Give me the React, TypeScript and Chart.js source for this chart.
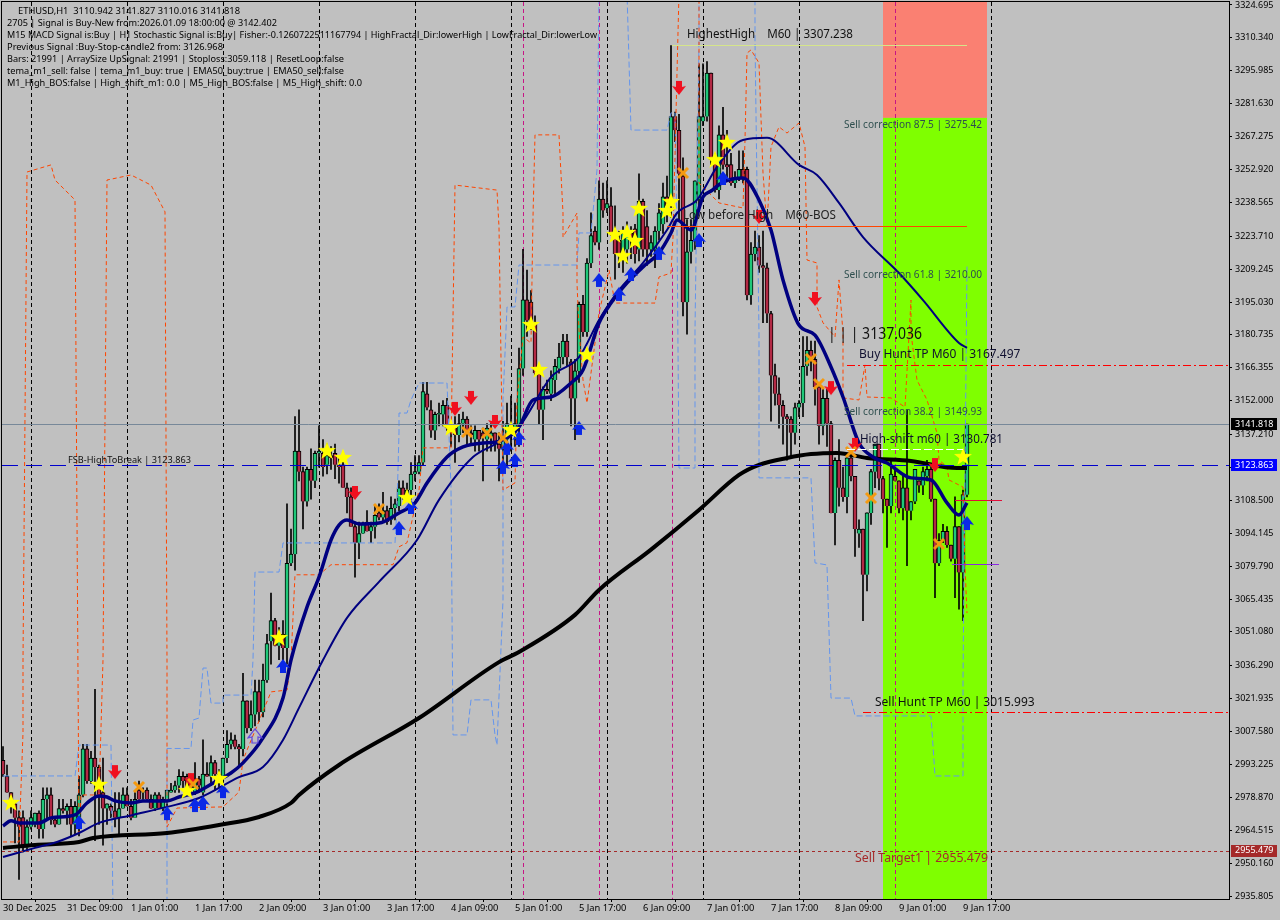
import React, { useEffect, useRef } from "react";
import { Chart, LineController, ScatterController, registerables } from "chart.js";

Chart.register(...registerables);
// Keep the plot area exactly where the axes put it: lines and point sprites must not push the layout inwards.
(LineController.prototype as any).getMaxOverflow = () => 0;
(ScatterController.prototype as any).getMaxOverflow = () => 0;

const opens = [
  2995,2988,2981,2976,2970,2970,2957,2966,2967,2972,
  2965,2978,2980,2969,2967,2974,2973,2975,2967,2970,
  2980,3000,2986,2996,2992,2981,2974,2975,2973,2970,
  2974,2980,2975,2970,2982,2981,2982,2978,2974,2980,
  2974,2977,2981,2982,2984,2988,2988,2986,2981,2987,
  2981,2989,2988,2994,2986,2988,2996,3002,3004,3001,
  3000,3021,3009,3015,3025,3016,3030,3047,3056,3045,
  3050,3044,3081,3085,3130,3121,3108,3122,3117,3129,
  3129,3124,3128,3129,3124,3124,3114,3110,3097,3090,
  3094,3099,3095,3097,3103,3101,3104,3100,3105,3106,
  3114,3110,3113,3120,3121,3125,3155,3148,3139,3146,
  3146,3150,3140,3140,3137,3142,3144,3138,3135,3139,
  3138,3135,3136,3138,3133,3131,3135,3138,3138,3141,
  3166,3196,3195,3186,3164,3148,3157,3155,3161,3166,
  3171,3178,3169,3153,3165,3194,3182,3212,3226,3221,
  3240,3236,3237,3225,3222,3216,3218,3225,3227,3218,
  3239,3228,3218,3218,3226,3229,3241,3237,3276,3270,
  3250,3195,3217,3222,3240,3274,3276,3295,3257,3244,
  3268,3255,3255,3247,3249,3253,3253,3198,3216,3219,
  3211,3210,3190,3163,3155,3150,3145,3144,3138,3149,
  3151,3167,3174,3170,3158,3141,3153,3142,3103,3126,
  3114,3110,3127,3119,3094,3096,3076,3103,3121,3133,
  3118,3109,3106,3119,3117,3105,3114,3104,3108,3117,
  3115,3119,3122,3109,3081,3091,3095,3089,3083,3097,3077,3110.942,
];
const highs = [
  3001,2993,2981,2977,2973,2973,2969,2973,2972,2973,
  2983,2983,2983,2970,2978,2978,2976,2978,2977,2988,
  3002,3002,2999,3026,2993,2996,2976,2976,2981,2981,
  2983,2983,2978,2981,2986,2983,2983,2980,2981,2981,
  2979,2982,2985,2986,2991,2990,2989,2989,2994,2988,
  3004,2994,2997,2995,2991,2996,3008,3007,3006,3002,
  3033,3021,3021,3030,3030,3037,3050,3068,3057,3053,
  3056,3107,3096,3145,3148,3123,3123,3131,3130,3141,
  3135,3133,3132,3133,3127,3129,3116,3114,3099,3099,
  3099,3104,3099,3106,3107,3112,3106,3110,3109,3117,
  3117,3116,3125,3128,3128,3160,3160,3152,3147,3151,
  3152,3153,3143,3145,3146,3147,3145,3141,3141,3139,
  3140,3142,3142,3138,3138,3143,3151,3154,3151,3175,
  3218,3209,3200,3189,3165,3158,3161,3165,3170,3177,
  3181,3181,3170,3170,3195,3198,3214,3234,3228,3248,
  3247,3248,3245,3237,3226,3228,3230,3228,3229,3251,
  3240,3235,3224,3228,3238,3247,3250,3307,3278,3277,
  3258,3231,3231,3248,3299,3299,3300,3295,3260,3272,
  3280,3270,3260,3252,3261,3261,3254,3221,3226,3224,
  3226,3212,3191,3168,3162,3152,3146,3145,3151,3152,
  3180,3180,3178,3178,3158,3157,3157,3143,3127,3135,
  3123,3129,3130,3119,3100,3096,3103,3122,3133,3133,
  3119,3109,3126,3122,3117,3119,3148,3108,3122,3117,
  3123,3126,3123,3109,3094,3098,3097,3089,3110,3097,3113,3141.827,
];
const lows = [
  2988,2981,2972,2959,2943,2955,2956,2965,2966,2961,
  2961,2969,2967,2966,2967,2972,2967,2962,2963,2962,
  2979,2985,2985,2960,2967,2958,2967,2970,2966,2962,
  2974,2975,2969,2970,2978,2978,2978,2974,2973,2974,
  2973,2969,2981,2981,2981,2983,2982,2981,2980,2981,
  2980,2988,2984,2982,2983,2987,2994,3000,3000,2992,
  2997,3007,3008,3010,3012,3014,3029,3037,3045,3039,
  3039,3037,3080,3078,3117,3096,3106,3109,3114,3123,
  3119,3120,3122,3118,3116,3114,3103,3097,3075,3083,
  3094,3095,3090,3092,3100,3099,3098,3098,3100,3104,
  3109,3109,3109,3117,3120,3124,3148,3136,3135,3141,
  3141,3139,3132,3125,3134,3138,3133,3133,3130,3130,
  3117,3130,3130,3130,3117,3125,3124,3130,3132,3132,
  3163,3180,3183,3163,3142,3135,3155,3152,3155,3164,
  3168,3167,3141,3135,3160,3180,3180,3210,3220,3218,
  3232,3234,3224,3205,3210,3208,3212,3214,3212,3213,
  3215,3211,3215,3210,3222,3225,3230,3232,3265,3231,
  3189,3181,3212,3218,3235,3272,3274,3255,3243,3240,
  3253,3248,3246,3245,3248,3247,3196,3194,3213,3208,
  3186,3186,3143,3150,3140,3133,3126,3128,3133,3145,
  3145,3163,3165,3150,3133,3137,3132,3103,3089,3106,
  3108,3103,3117,3084,3088,3056,3069,3098,3114,3113,
  3103,3088,3103,3117,3103,3100,3080,3100,3107,3112,
  3111,3117,3108,3066,3080,3090,3088,3082,3066,3061,3056,3110.016,
];
const closes = [
  2989,2981,2976,2970,2966,2957,2966,2970,2972,2965,
  2978,2980,2969,2967,2974,2973,2975,2967,2975,2980,
  3000,2986,2996,2992,2979,2974,2976,2973,2970,2974,
  2980,2975,2970,2978,2978,2981,2978,2974,2980,2974,
  2978,2982,2982,2984,2988,2986,2983,2983,2987,2984,
  2989,2988,2994,2989,2989,2996,3002,3004,3001,3000,
  3021,3009,3015,3025,3016,3030,3046,3056,3045,3050,
  3044,3081,3085,3130,3121,3108,3122,3117,3129,3130,
  3123,3128,3127,3124,3123,3114,3110,3097,3090,3094,
  3098,3095,3097,3102,3101,3104,3099,3105,3107,3114,
  3110,3113,3120,3121,3125,3156,3149,3139,3146,3146,
  3150,3140,3138,3137,3142,3144,3138,3137,3139,3135,
  3136,3140,3138,3133,3131,3136,3142,3141,3142,3166,
  3196,3187,3186,3164,3148,3157,3156,3162,3167,3171,
  3178,3171,3153,3165,3194,3182,3212,3224,3221,3240,
  3235,3238,3225,3216,3216,3225,3225,3222,3216,3239,
  3218,3218,3221,3226,3234,3241,3237,3276,3270,3251,
  3195,3217,3222,3248,3276,3276,3295,3257,3244,3268,
  3255,3254,3247,3249,3253,3249,3198,3216,3219,3211,
  3210,3190,3163,3155,3150,3145,3144,3138,3149,3151,
  3167,3174,3170,3158,3141,3153,3142,3103,3126,3114,
  3110,3127,3119,3096,3096,3076,3103,3121,3133,3118,
  3109,3106,3120,3117,3105,3114,3104,3108,3122,3115,
  3121,3122,3109,3081,3091,3095,3089,3083,3097,3077,3111,3141.818,
];

const dateLabels = ["30 Dec 2025","31 Dec 09:00","1 Jan 01:00","1 Jan 17:00","2 Jan 09:00","3 Jan 01:00","3 Jan 17:00","4 Jan 09:00","5 Jan 01:00","5 Jan 17:00","6 Jan 09:00","7 Jan 01:00","7 Jan 17:00","8 Jan 09:00","9 Jan 01:00","9 Jan 17:00"];
const priceTicks = [3324.695,3310.34,3295.985,3281.63,3267.275,3252.92,3238.565,3223.71,3209.245,3195.03,3180.735,3166.355,3152,3137.21,3122.855,3108.5,3094.145,3079.79,3065.435,3051.08,3036.29,3021.935,3007.58,2993.225,2978.87,2964.515,2950.16,2935.805];

// [bar, price] pairs for indicators
const emaFast = [[0,2966.4],[2,2968.6],[4,2967.7],[9,2967.7],[12,2969.9],[18,2971.2],[21,2976.4],[24,2979.5],[26,2979],[28,2977.3],[32,2976.4],[35,2977.3],[41,2977.3],[44,2979],[48,2980.8],[53,2985.6],[57,2989.5],[60,2993.9],[65,3004.8],[70,3022.2],[72,3038.8],[76,3061.9],[79,3075],[82,3091.2],[84,3097.7],[86,3099.9],[89,3098.2],[94,3098.6],[99,3103],[103,3107.4],[106,3116.1],[111,3127.4],[115,3131.8],[120,3133.5],[123.5,3134],[129,3140.5],[132.5,3152.3],[137,3153.6],[142,3159.7],[145,3165.4],[149,3185.9],[152,3194.6],[156,3203.4],[160,3210.4],[164,3216.5],[167,3225.2],[168.5,3230.9],[172,3226.5],[175,3240.9],[177,3243.5],[180,3247.4],[185,3249.2],[189,3239.6],[192,3226.5],[195,3204.7],[199,3185],[203,3180.6],[207,3166.7],[210,3153.6],[214,3133.5],[217.5,3127.4],[221,3124.8],[227,3118.3],[232,3117.4],[236,3107.4],[239,3102.1],[241,3107.4]];
const emaSlow = [[0,2952.8],[8,2956.8],[13.5,2959.4],[19,2963.3],[24,2967.7],[32.5,2971.2],[41,2974.7],[49,2978.6],[59,2987.7],[65,2992.1],[70,3003.9],[74,3017.9],[80,3038.8],[86,3057.2],[94,3072.9],[103.5,3091.2],[109,3108.7],[117.5,3127.4],[123.5,3133.5],[129,3140.5],[137,3162.3],[144,3171],[149,3187.2],[151,3192.9],[154,3200.3],[160,3212.1],[166,3226.5],[168.5,3233.9],[173.5,3239.6],[178.5,3254],[185,3265.8],[191,3266.7],[199,3254.9],[203.5,3250.5],[209,3238.3],[215,3223.4],[224,3207.7],[230,3195.9],[239,3177.2],[241,3175]];
const ema200 = [[0,2956.8],[8,2958.1],[19,2959.4],[22.5,2961.1],[41,2963.3],[54,2966.8],[64,2970.3],[72,2976.4],[74,2979.9],[84,2993],[104,3013.5],[124,3037.9],[129,3042.3],[143,3058.5],[149,3069.4],[162,3087],[174,3104.3],[184,3119.6],[189,3124],[196,3127],[202,3128.7],[208.5,3129.2],[216,3127],[227,3125.7],[238.5,3122.6],[241,3122.6]];
const orangeBand = [[0,2959.4],[4,2959.4],[5,3006.9],[5,3038.8],[6,3251.8],[12,3254.9],[13,3248.3],[18,3239.6],[18.5,3099.9],[19,2963.3],[19.5,2979.9],[24,2979.9],[25,3038.8],[26,3248.3],[32,3250.5],[37,3246.1],[40.5,3234.4],[41,3038.8],[41,2965.9],[43.5,2974.2],[55,2974.7],[59,2981.2],[60,2995.2],[67,3024.9],[71,3025.7],[72,3038.8],[73,3076],[79,3076],[82,3080.4],[97.5,3080.4],[99,3088.2],[101,3090],[104,3113],[105,3131.4],[112,3131.4],[113,3246.1],[123.5,3243.9],[124,3227.8],[125,3113],[128,3116.1],[128.5,3152.3],[130,3179.8],[132,3177.2],[132.5,3232.2],[133,3268],[139,3268],[140,3233.9],[140,3223.4],[143.5,3233.9],[143.5,3203.4],[144,3182.9],[145,3161],[146,3151],[149,3190.3],[151.5,3209],[153,3194.6],[163,3194.6],[164,3206],[167,3207.7],[167.5,3223.4],[168.5,3295],[169,3330],[174,3330],[174,3247],[179,3238.3],[185,3236.1],[185.5,3265.8],[186,3303.7],[187,3305.1],[189,3299.4],[190,3251.4],[191,3227.8],[192,3262.8],[194,3271.5],[196,3268.8],[199,3273.2],[200.5,3262.8],[201,3213.4],[203.5,3212.1],[203.5,3192.9],[205,3186],[208,3179.8],[209,3204.7],[210,3181.5],[210,3153.2],[214,3152.3],[215.5,3167.6],[216,3153.6],[222,3153.2],[225.5,3149.2],[227,3195.9],[227,3181.5],[228.5,3161],[231,3152.3],[233.5,3137.9],[234,3126.1],[236,3123.1],[236.5,3117.4],[240,3114.3],[240.5,3079.4],[241,3059.3]];
const blueBand = [[0,2988.2],[18,2988.2],[19,3001.7],[27,3001.7],[27.5,2930],[41,2930],[41,3000.2],[47,3000.2],[47.5,3012.6],[49,3013.5],[50,3035.3],[51,3035.3],[52,3020],[55,3020],[55,3023.5],[62,3023.5],[62.5,3038.8],[63,3077.2],[69,3077.2],[70,3089.9],[98,3089.9],[98.5,3105.6],[99,3138.3],[99,3146.6],[101,3146.6],[102,3152.3],[104,3159.7],[111,3159.7],[112,3114.3],[112.5,3006.1],[116,3006.1],[117,3021.4],[122,3021.4],[123,3006.1],[123.5,3001.7],[125,3065],[125,3152.3],[126,3192.9],[128,3192.9],[129,3211.2],[143.5,3211.2],[144,3225.2],[147,3225.2],[148.5,3252.7],[149,3330],[156,3330],[157,3270.1],[166,3270.1],[167,3277.6],[168,3277.6],[168.5,3227.8],[169,3122.6],[173,3122.6],[173,3182.9],[174,3309.4],[174,3330],[188,3330],[188,3309.4],[189,3181.5],[189,3118.3],[202,3118.3],[203,3081.2],[206,3080.3],[207,3022.2],[212,3022.2],[213,3014.4],[232,3014.4],[233,2988.2],[240,2988.2],[240,3030.1],[241,3211.2]];

const stars = [[2,2976.4],[24,2984.3],[46,2981.6],[54,2986.9],[69,3048.4],[81,3130],[85,3127],[101,3109.5],[112,3140.1],[127,3139.2],[132,3185],[134,3165.4],[146,3171.9],[153,3224.3],[156,3225.2],[158,3221.7],[155,3215.1],[159,3235.7],[166,3234.8],[167,3238.7],[178,3257],[181,3264.5],[240,3127.4]];
const crosses = [[34,2983.4],[47.5,2984.7],[94,3104.7],[116,3138.3],[121,3137.9],[125,3135.7],[170,3251.4],[202,3170.2],[204,3159.3],[212,3129.6],[217,3109.5],[234,3089.5]];
const downArrows = [[28,2989.9],[47,2986.4],[88,3111.7],[113,3148.4],[117,3153.2],[123,3142.7],[169,3288.5],[189,3232.2],[203,3196.4],[207,3157.5],[213,3132.7],[233,3123.9]];
const upArrows = [[19,2968.1],[41,2972],[48,2975.5],[50,2976.4],[55,2981.6],[70,3036.2],[99,3096.4],[102,3105.6],[125,3123.1],[126,3131.4],[128,3126.1],[129,3135.7],[144,3140.1],[149,3204.7],[154,3198.6],[157,3207.3],[164,3216.5],[174,3222.1],[180,3249.2],[241,3098.6]];
const hollowArrows = [[63,3005.7]];

const daySeparators = [7,31,55,79,103,127,151,175,199,223,247];
const signalVerticals = [130,149,223];

const infoLines = [
  "    ETHUSD,H1  3110.942 3141.827 3110.016 3141.818",
  "2705 | Signal is Buy-New from:2026.01.09 18:00:00 @ 3142.402",
  "M15 MACD Signal is:Buy | H1 Stochastic Signal is:Buy| Fisher:-0.1260722511167794 | HighFractal_Dir:lowerHigh | LowFractal_Dir:lowerLow",
  "Previous Signal :Buy-Stop-candle2 from: 3126.968",
  "Bars: 21991 | ArraySize UpSignal: 21991 | Stoploss:3059.118 | ResetLoop:false",
  "tema_m1_sell: false | tema_m1_buy: true | EMA50_buy:true | EMA50_sell:false",
  "M1_High_BOS:false | High_shift_m1: 0.0 | M5_High_BOS:false | M5_High_shift: 0.0",
];

const FONT = '"Noto Sans"';
const pts = (a: number[][]) => a.map(([x, y]) => ({ x, y }));
const noPadding = () => ({ left: 0, right: 0, top: 0, bottom: 0 });

function sprite(w: number, h: number, draw: (c: CanvasRenderingContext2D) => void) {
  const cv = document.createElement("canvas");
  cv.width = w; cv.height = h;
  draw(cv.getContext("2d")!);
  return cv;
}
function starSprite() {
  return sprite(20, 20, (c) => {
    c.fillStyle = "#ffff00";
    c.beginPath();
    for (let k = 0; k < 10; k++) {
      const r = k % 2 ? 3.9 : 9.5, a = -Math.PI / 2 + (k * Math.PI) / 5;
      c.lineTo(10 + r * Math.cos(a), 10 + r * Math.sin(a));
    }
    c.closePath(); c.fill();
  });
}
function crossSprite() {
  return sprite(14, 14, (c) => {
    c.strokeStyle = "#f59a10"; c.lineWidth = 3;
    c.beginPath(); c.moveTo(2, 2); c.lineTo(12, 12); c.moveTo(12, 2); c.lineTo(2, 12); c.stroke();
  });
}
function arrowSprite(color: string, up: boolean, hollow = false) {
  return sprite(16, 16, (c) => {
    if (up) { c.translate(0, 16); c.scale(1, -1); }
    c.beginPath();
    c.moveTo(5, 1); c.lineTo(11, 1); c.lineTo(11, 7); c.lineTo(15, 6); c.lineTo(8, 15); c.lineTo(1, 6); c.lineTo(5, 7);
    c.closePath();
    if (hollow) { c.strokeStyle = color; c.lineWidth = 1.2; c.stroke(); }
    else { c.fillStyle = color; c.fill(); }
  });
}

const overlayPlugin = {
  id: "overlay",
  beforeDraw(chart: any) {
    const c = chart.ctx;
    c.save(); c.fillStyle = "#c0c0c0"; c.fillRect(0, 0, 1280, 920); c.restore();
  },
  beforeDatasetsDraw(chart: any) {
    const { ctx: c, chartArea: a, scales: { x, y } } = chart;
    const left = x.getPixelForValue(220), right = x.getPixelForValue(246);
    const split = y.getPixelForValue(3275.42);
    c.save();
    c.fillStyle = "#fa8072"; c.fillRect(left, a.top, right - left, split - a.top);
    c.fillStyle = "#7fff00"; c.fillRect(left, split, right - left, a.bottom - split);
    c.lineWidth = 1;
    c.strokeStyle = "#000"; c.setLineDash([4, 3]);
    daySeparators.forEach((b) => {
      const p = Math.round(x.getPixelForValue(b)) + 0.5;
      c.beginPath(); c.moveTo(p, a.top); c.lineTo(p, a.bottom); c.stroke();
    });
    c.strokeStyle = "#c71585";
    signalVerticals.forEach((b) => {
      const p = Math.round(x.getPixelForValue(b)) + 0.5;
      c.beginPath(); c.moveTo(p, a.top); c.lineTo(p, a.bottom); c.stroke();
    });
    const p = Math.round(x.getPixelForValue(167.25)) + 0.5;
    c.beginPath(); c.moveTo(p, y.getPixelForValue(3210)); c.lineTo(p, a.bottom); c.stroke();
    c.restore();
  },
  afterDatasetsDraw(chart: any) {
    const { ctx: c, chartArea: a, scales: { x, y } } = chart;
    const hline = (v: number, from: number, to: number, color: string, dash: number[], lw = 1) => {
      const p = Math.round(y.getPixelForValue(v)) + 0.5;
      c.save(); c.strokeStyle = color; c.lineWidth = lw; c.setLineDash(dash);
      c.beginPath(); c.moveTo(from, p); c.lineTo(to, p); c.stroke(); c.restore();
    };
    hline(3141.818, a.left, a.right, "#778899", []);
    hline(3123.863, a.left, a.right, "#0000cd", [16, 8]);
    hline(2955.479, a.left, a.right, "#a52a2a", [3, 3]);
    hline(3167.497, 847, a.right, "#ff0000", [8, 3, 2, 3]);
    hline(3015.993, 863, a.right, "#ff0000", [8, 3, 2, 3]);
    hline(3307.238, 672, 967, "#d5e58a", []);
    hline(3228.2, 667, 967, "#ff4500", []);
    hline(3130.781, 847, 963, "#ffffff", [8, 3]);
    hline(3108.7, 955, 1002, "#e0103a", []);
    hline(3080.7, 952, 999, "#8a2be2", []);

    const text = (s: string, px: number, py: number, color: string, size: number, w?: number) => {
      c.save();
      c.font = `${size}px ${FONT}`; c.fillStyle = color; c.textBaseline = "middle"; c.textAlign = "left";
      c.fillText(s, px, py, w);
      c.restore();
    };
    infoLines.forEach((s, k) => {
      const widths = [234, 270, 590, 216, 337, 337, 355];
      text(s.trimStart(), k === 0 ? 18 : 7, 11 + k * 12, "#000", 9.5, k === 0 ? 222 : widths[k]);
    });
    text("HighestHigh    M60 | 3307.238", 687, 35, "#111", 12, 166);
    text("Low before High    M60-BOS", 683, 216, "#222", 12, 153);
    text("Sell correction 87.5 | 3275.42", 844, 125, "#2f4f4f", 10.5, 138);
    text("Sell correction 61.8 | 3210.00", 844, 275, "#2f4f4f", 10.5, 138);
    text("Sell correction 38.2 | 3149.93", 844, 412, "#2f4f4f", 10.5, 138);
    text("| | | 3137.036", 828, 334, "#111", 16, 94);
    text("Buy Hunt TP M60 | 3167.497", 859, 355, "#101030", 12, 163);
    text("High-shift m60 | 3130.781", 860, 440, "#101030", 12, 143);
    text("FSB-HighToBreak | 3123.863", 68, 460, "#111", 9.5, 123);
    text("Sell Hunt TP M60 | 3015.993", 875, 703, "#111", 12, 161);
    text("Sell Target1 | 2955.479", 855, 858, "#a52a2a", 13, 133);

    // plot frame
    c.save(); c.strokeStyle = "#000"; c.lineWidth = 1;
    c.strokeRect(a.left - 0.5, a.top - 0.5, a.right - a.left + 1, a.bottom - a.top + 1);
    c.restore();

    const tag = (v: number, bg: string) => {
      const p = y.getPixelForValue(v);
      c.save(); c.fillStyle = bg; c.fillRect(1231, Math.round(p) - 6, 46, 12);
      c.font = `9px ${FONT}`; c.fillStyle = "#fff"; c.textBaseline = "middle"; c.textAlign = "left";
      c.fillText(v.toFixed(3), 1235, p);
      c.restore();
    };
    tag(3141.818, "#000000");
    tag(3123.863, "#0000ff");
    tag(2955.479, "#a52a2a");
  },
};

export default function App() {
  const ref = useRef<HTMLCanvasElement>(null);
  useEffect(() => {
    const idx = opens.map((_, i) => i);
    const chart = new Chart(ref.current!, {
      data: {
        datasets: [
          {
            type: "bar", order: 10, grouped: false, barThickness: 1, backgroundColor: "#000",
            data: idx.map((i) => ({ x: i, y: [lows[i], highs[i]] })),
          },
          {
            type: "bar", order: 9, grouped: false, barThickness: 4, minBarLength: 1,
            backgroundColor: idx.map((i) => (closes[i] >= opens[i] ? "#1fc879" : "#b32a45")),
            borderColor: "#000", borderWidth: 1,
            data: idx.map((i) => ({ x: i, y: [opens[i], closes[i]] })),
          },
          { type: "line", order: 8, data: pts(orangeBand), borderColor: "#ff4500", borderWidth: 1, borderDash: [4, 3], pointRadius: 0, tension: 0 },
          { type: "line", order: 8, data: pts(blueBand), borderColor: "#6495ed", borderWidth: 1, borderDash: [6, 3], pointRadius: 0, tension: 0 },
          { type: "line", order: 7, data: pts(ema200), borderColor: "#000", borderWidth: 4, pointRadius: 0, cubicInterpolationMode: "monotone" },
          { type: "line", order: 6, data: pts(emaSlow), borderColor: "#000080", borderWidth: 2, pointRadius: 0, cubicInterpolationMode: "monotone" },
          { type: "line", order: 5, data: pts(emaFast), borderColor: "#000080", borderWidth: 3.5, pointRadius: 0, cubicInterpolationMode: "monotone" },
          { type: "scatter", order: 4, data: pts(upArrows), pointStyle: arrowSprite("#0a28e6", true), pointRadius: 0.2, pointBorderWidth: 0 },
          { type: "scatter", order: 4, data: pts(hollowArrows), pointStyle: arrowSprite("#5a3ee0", true, true), pointRadius: 0.2, pointBorderWidth: 0 },
          { type: "scatter", order: 3, data: pts(downArrows), pointStyle: arrowSprite("#f01020", false), pointRadius: 0.2, pointBorderWidth: 0 },
          { type: "scatter", order: 2, data: pts(crosses), pointStyle: crossSprite(), pointRadius: 0.2, pointBorderWidth: 0 },
          { type: "scatter", order: 1, data: pts(stars), pointStyle: starSprite(), pointRadius: 0.2, pointBorderWidth: 0 },
        ],
      } as any,
      options: {
        responsive: false,
        animation: false,
        devicePixelRatio: 1,
        layout: { padding: { left: 2, top: 2, right: 0, bottom: 0 } },
        plugins: { legend: { display: false }, tooltip: { enabled: false } },
        events: [],
        scales: {
          x: {
            type: "linear", min: -0.25, max: 306.5, offset: false,
            border: { display: false },
            grid: { drawOnChartArea: false, drawTicks: true, tickLength: 3, tickColor: "#000" },
            afterBuildTicks: (s: any) => { s.ticks = dateLabels.map((_, k) => ({ value: k * 16 })); },
            afterFit: (s: any) => { s.height = 21; s.getPadding = noPadding; },
            ticks: {
              autoSkip: false, maxRotation: 0, minRotation: 0, align: "start", padding: 1, color: "#000",
              font: { family: FONT, size: 9.3 },
              callback: (v: any) => dateLabels[Math.round(Number(v) / 16)] ?? "",
            },
          },
          y: {
            type: "linear", position: "right", min: 2934.5, max: 3326,
            border: { display: false },
            grid: { drawOnChartArea: false, drawTicks: true, tickLength: 3, tickColor: "#000" },
            afterBuildTicks: (s: any) => { s.ticks = priceTicks.map((value) => ({ value })); },
            afterFit: (s: any) => { s.width = 51; s.getPadding = noPadding; },
            ticks: {
              autoSkip: false, padding: 3, color: "#000",
              font: { family: FONT, size: 9 },
              callback: (v: any) => Number(v).toFixed(3),
            },
          },
        },
      } as any,
      plugins: [overlayPlugin],
    } as any);
    return () => chart.destroy();
  }, []);
  return (
    <div style={{ position: "fixed", left: 0, top: 0, width: 1280, height: 920, background: "#c0c0c0" }}>
      <canvas ref={ref} width={1280} height={920} style={{ display: "block" }} />
    </div>
  );
}
